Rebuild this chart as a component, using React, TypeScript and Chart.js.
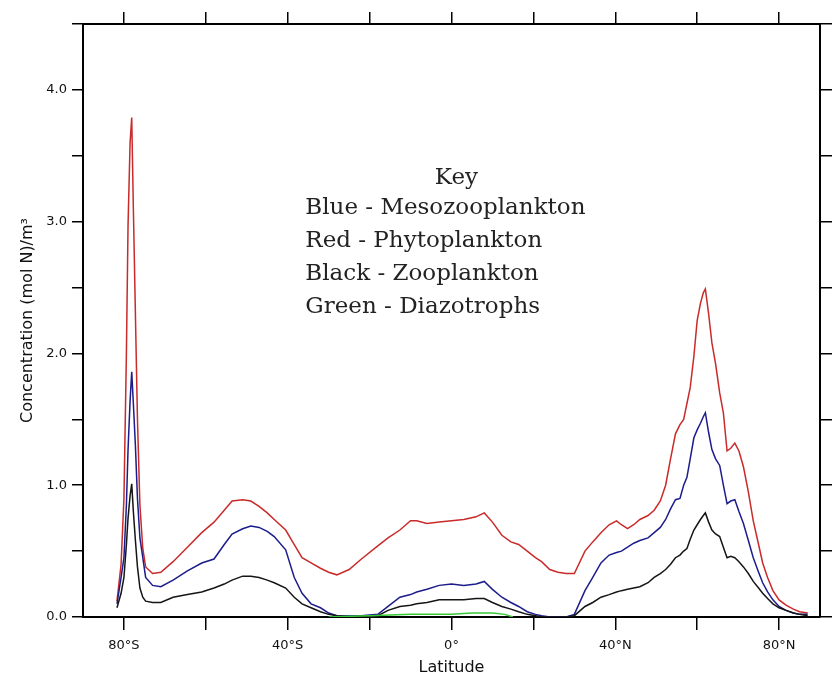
import React, { useEffect, useRef } from 'react';
import { Chart, registerables } from 'chart.js';

Chart.register(...registerables);

// Latitude grid (degrees, negative = south)
const latitudes = [
  -81.7, -80.7, -80.0, -79.4, -79.0, -78.5, -78.1, -77.7, -77.2, -76.7,
  -76.1, -75.4, -74.7, -73, -71, -68, -64.5, -61, -58, -55.5,
  -53.6, -51, -49, -47, -45, -43.3, -40.5, -38.4, -36.5, -34.3,
  -32, -30, -28, -25, -22, -18, -15.5, -12.6, -10, -8.5,
  -6, -3, 0, 3, 6, 8, 10, 12.3, 14.5, 16.4,
  18.5, 20.5, 22, 24, 26, 28, 30, 32.6, 34.5, 36.5,
  38.5, 40.3, 41.5, 43, 44.5, 46, 48, 49.5, 51, 52.3,
  53.5, 54.7, 55.8, 56.7, 57.5, 58.3, 59.2, 60, 60.8, 61.5,
  62, 62.8, 63.6, 64.5, 65.5, 66.4, 67.3, 68.2, 69.2, 70.2,
  71.3, 72.5, 73.7, 75, 76, 77.2, 78.5, 80, 81.7, 83.5,
  85, 87,
];

// Red - Phytoplankton
const phytoplankton = [
  0.12, 0.40, 0.90, 2.00, 2.97, 3.60, 3.79, 3.10, 2.30, 1.50,
  0.85, 0.52, 0.38, 0.33, 0.34, 0.42, 0.53, 0.64, 0.72, 0.81,
  0.88, 0.89, 0.88, 0.84, 0.79, 0.74, 0.66, 0.55, 0.45, 0.41,
  0.37, 0.34, 0.32, 0.36, 0.44, 0.54, 0.60, 0.66, 0.73, 0.73,
  0.71, 0.72, 0.73, 0.74, 0.76, 0.79, 0.72, 0.62, 0.57, 0.55,
  0.50, 0.45, 0.42, 0.36, 0.34, 0.33, 0.33, 0.50, 0.57, 0.64,
  0.70, 0.73, 0.70, 0.67, 0.70, 0.74, 0.77, 0.81, 0.88, 1.00,
  1.20, 1.39, 1.46, 1.50, 1.62, 1.74, 1.98, 2.25, 2.38, 2.46,
  2.49, 2.30, 2.08, 1.92, 1.70, 1.55, 1.26, 1.28, 1.32, 1.26,
  1.14, 0.95, 0.73, 0.55, 0.41, 0.30, 0.20, 0.13, 0.09, 0.06,
  0.04, 0.03,
];

// Blue - Mesozooplankton
const mesozooplankton = [
  0.10, 0.30, 0.45, 0.85, 1.27, 1.64, 1.86, 1.62, 1.30, 0.90,
  0.60, 0.45, 0.30, 0.24, 0.23, 0.28, 0.35, 0.41, 0.44, 0.55,
  0.63, 0.67, 0.69, 0.68, 0.65, 0.61, 0.51, 0.30, 0.18, 0.10,
  0.07, 0.03, 0.01, 0.01, 0.01, 0.02, 0.08, 0.15, 0.17, 0.19,
  0.21, 0.24, 0.25, 0.24, 0.25, 0.27, 0.21, 0.15, 0.11, 0.08,
  0.04, 0.02, 0.01, 0.00, 0.00, 0.00, 0.02, 0.20, 0.30, 0.41,
  0.47, 0.49, 0.50, 0.53, 0.56, 0.58, 0.60, 0.64, 0.68, 0.74,
  0.82, 0.89, 0.90, 1.00, 1.06, 1.20, 1.36, 1.42, 1.47, 1.52,
  1.55, 1.40, 1.27, 1.20, 1.15, 1.00, 0.86, 0.88, 0.89, 0.80,
  0.71, 0.58, 0.45, 0.34, 0.26, 0.19, 0.13, 0.08, 0.05, 0.03,
  0.02, 0.02,
];

// Black - Zooplankton
const zooplankton = [
  0.07, 0.18, 0.30, 0.55, 0.75, 0.92, 1.01, 0.80, 0.58, 0.38,
  0.22, 0.15, 0.12, 0.11, 0.11, 0.15, 0.17, 0.19, 0.22, 0.25,
  0.28, 0.31, 0.31, 0.30, 0.28, 0.26, 0.22, 0.15, 0.10, 0.07,
  0.04, 0.02, 0.01, 0.00, 0.00, 0.01, 0.05, 0.08, 0.09, 0.10,
  0.11, 0.13, 0.13, 0.13, 0.14, 0.14, 0.11, 0.08, 0.06, 0.04,
  0.02, 0.01, 0.00, 0.00, 0.00, 0.00, 0.01, 0.08, 0.11, 0.15,
  0.17, 0.19, 0.20, 0.21, 0.22, 0.23, 0.26, 0.30, 0.33, 0.36,
  0.40, 0.45, 0.47, 0.50, 0.52, 0.59, 0.66, 0.70, 0.74, 0.77,
  0.79, 0.72, 0.66, 0.63, 0.61, 0.53, 0.45, 0.46, 0.45, 0.42,
  0.38, 0.33, 0.27, 0.22, 0.18, 0.14, 0.10, 0.07, 0.05, 0.03,
  0.02, 0.01,
];

// Green - Diazotrophs
const diazoLatitudes = [-30, -25, -20, -15, -10, -5, 0, 5, 10, 13, 15];
const diazotrophs = [0.0, 0.005, 0.01, 0.015, 0.02, 0.02, 0.02, 0.03, 0.03, 0.02, 0.0];

const xTickValues = [-80, -60, -40, -20, 0, 20, 40, 60, 80];
const xLabelValues = [-80, -40, 0, 40, 80];
const xLabelTexts = ['80°S', '40°S', '0°', '40°N', '80°N'];
const yLabelValues = [0, 1, 2, 3, 4];
const yLabelTexts = ['0.0', '1.0', '2.0', '3.0', '4.0'];

const keyTitle = 'Key';
const keyLines = [
  'Blue - Mesozooplankton',
  'Red - Phytoplankton',
  'Black - Zooplankton',
  'Green - Diazotrophs',
];
// key placement in data units
const keyTitlePos = { lat: 1.2, value: 3.33 };
const keyLinesLat = -35.7;
const keyLinesValues = [3.1, 2.85, 2.6, 2.35];

const toPoints = (xs: number[], ys: number[]) => xs.map((x, i) => ({ x, y: ys[i] }));

const keyPlugin = {
  id: 'keyText',
  afterDatasetsDraw(chart: any) {
    const { ctx } = chart;
    const x = chart.scales.x;
    const y = chart.scales.y;
    ctx.save();
    ctx.fillStyle = '#222';
    ctx.font = '23px "DejaVu Serif"';
    ctx.textBaseline = 'middle';
    ctx.textAlign = 'center';
    ctx.fillText(keyTitle, x.getPixelForValue(keyTitlePos.lat), y.getPixelForValue(keyTitlePos.value));
    ctx.textAlign = 'left';
    keyLines.forEach((t, i) => {
      ctx.fillText(t, x.getPixelForValue(keyLinesLat), y.getPixelForValue(keyLinesValues[i]));
    });
    ctx.restore();
  },
};

const tickFont = { family: '"DejaVu Sans"', size: 13 };

export default function App() {
  const canvasRef = useRef<HTMLCanvasElement | null>(null);

  useEffect(() => {
    if (!canvasRef.current) return;
    const setXTicks = (scale: any) => {
      scale.ticks = xTickValues.map((v) => ({ value: v }));
    };
    const chart = new Chart(canvasRef.current, {
      type: 'line',
      data: {
        datasets: [
          {
            label: 'Diazotrophs',
            data: toPoints(diazoLatitudes, diazotrophs),
            borderColor: '#36c936',
            borderWidth: 1.5,
            pointRadius: 0,
          },
          {
            label: 'Zooplankton',
            data: toPoints(latitudes, zooplankton),
            borderColor: '#151515',
            borderWidth: 1.5,
            pointRadius: 0,
          },
          {
            label: 'Mesozooplankton',
            data: toPoints(latitudes, mesozooplankton),
            borderColor: '#1c1c8c',
            borderWidth: 1.5,
            pointRadius: 0,
          },
          {
            label: 'Phytoplankton',
            data: toPoints(latitudes, phytoplankton),
            borderColor: '#c92a2a',
            borderWidth: 1.5,
            pointRadius: 0,
          },
        ],
      },
      options: {
        responsive: false,
        animation: false,
        layout: { padding: 0, autoPadding: false },
        plugins: { legend: { display: false }, tooltip: { enabled: false } },
        elements: { line: { tension: 0 } },
        scales: {
          x: {
            type: 'linear',
            position: 'bottom',
            min: -90,
            max: 90,
            afterBuildTicks: setXTicks,
            afterFit: (s: any) => {
              s.height = 62;
            },
            ticks: {
              autoSkip: false,
              maxRotation: 0,
              padding: 8,
              color: '#111',
              font: tickFont,
              callback: (v: any) => {
                const i = xLabelValues.indexOf(Number(v));
                return i >= 0 ? xLabelTexts[i] : '';
              },
            },
            grid: { drawOnChartArea: false, drawTicks: true, tickLength: 13, color: '#000', lineWidth: 1.5 },
            border: { display: true, color: '#000', width: 2 },
            title: {
              display: true,
              text: 'Latitude',
              color: '#111',
              font: { family: '"DejaVu Sans"', size: 16 },
              padding: { top: 0, bottom: 2 },
            },
          },
          x2: {
            type: 'linear',
            axis: 'x',
            position: 'top',
            min: -90,
            max: 90,
            afterBuildTicks: setXTicks,
            afterFit: (s: any) => {
              s.height = 24;
            },
            ticks: { display: false },
            grid: { drawOnChartArea: false, drawTicks: true, tickLength: 12, color: '#000', lineWidth: 1.5 },
            border: { display: true, color: '#000', width: 2 },
          },
          y: {
            type: 'linear',
            position: 'left',
            min: 0,
            max: 4.5,
            afterFit: (s: any) => {
              s.width = 83;
            },
            ticks: {
              stepSize: 0.5,
              padding: 5,
              color: '#111',
              font: tickFont,
              callback: (v: any) => {
                const i = yLabelValues.findIndex((t) => Math.abs(t - Number(v)) < 1e-6);
                return i >= 0 ? yLabelTexts[i] : '';
              },
            },
            grid: { drawOnChartArea: false, drawTicks: true, tickLength: 11, color: '#000', lineWidth: 1.5 },
            border: { display: true, color: '#000', width: 2 },
            title: {
              display: true,
              text: 'Concentration (mol N)/m³',
              color: '#111',
              font: { family: '"DejaVu Sans"', size: 16 },
              padding: { top: 18, bottom: 0 },
            },
          },
          y2: {
            type: 'linear',
            axis: 'y',
            position: 'right',
            min: 0,
            max: 4.5,
            afterFit: (s: any) => {
              s.width = 18;
            },
            ticks: { display: false, stepSize: 0.5 },
            grid: { drawOnChartArea: false, drawTicks: true, tickLength: 12, color: '#000', lineWidth: 1.5 },
            border: { display: true, color: '#000', width: 2 },
          },
        },
      } as any,
      plugins: [keyPlugin],
    });
    return () => chart.destroy();
  }, []);

  return (
    <div style={{ position: 'fixed', left: 0, top: 0, width: 838, height: 679, background: '#fff' }}>
      <canvas ref={canvasRef} width={838} height={679} style={{ display: 'block' }} />
    </div>
  );
}
